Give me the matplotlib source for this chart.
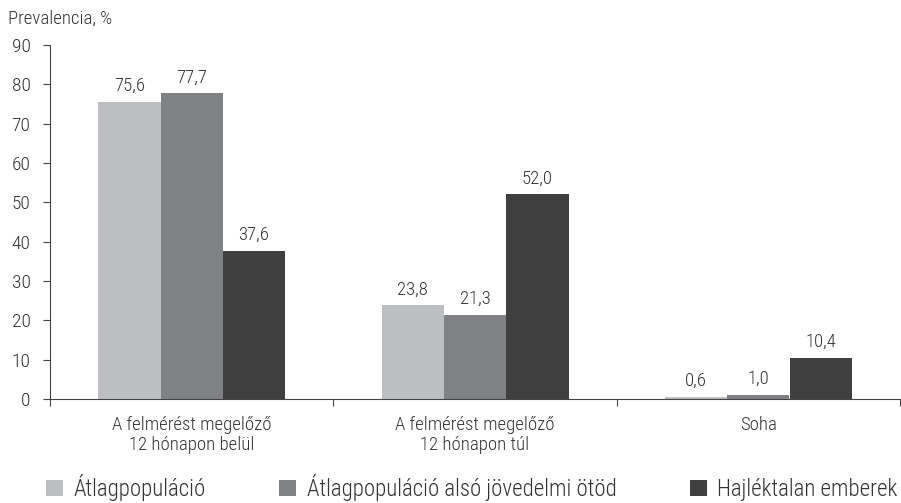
import matplotlib
matplotlib.use("Agg")
import matplotlib.pyplot as plt
from matplotlib import font_manager
from matplotlib.patches import Patch
import numpy as np

categories = ["A felmérést megelőző\n12 hónapon belül",
              "A felmérést megelőző\n12 hónapon túl",
              "Soha"]
series_names = ["Átlagpopuláció", "Átlagpopuláció alsó jövedelmi ötöd", "Hajléktalan emberek"]
atlag = [75.6, 23.8, 0.6]
also_otod = [77.7, 21.3, 1.0]
hajlektalan = [37.6, 52.0, 10.4]
colors = ["#bdbec1", "#808184", "#3f3f40"]
yticks = [0, 10, 20, 30, 40, 50, 60, 70, 80, 90]

avail = {f.name for f in font_manager.fontManager.ttflist}
fam = None
for cand in ["Roboto Condensed", "Liberation Sans Narrow", "Open Sans Condensed", "Liberation Sans"]:
    if cand in avail:
        fam = cand
        break
plt.rcParams['font.family'] = [fam, 'DejaVu Sans'] if fam else ['DejaVu Sans']
plt.rcParams['font.weight'] = 'light'
txt = "#333333"

fig = plt.figure(figsize=(9.01, 5.03), dpi=100)
ax = fig.add_axes([50/901, 1-399/503, 850/901, (399-45)/503])

x = np.arange(len(categories))
w = 0.22
all_series = [atlag, also_otod, hajlektalan]
for i, (vals, c, name) in enumerate(zip(all_series, colors, series_names)):
    bars = ax.bar(x + (i-1)*w, vals, width=w, color=c, label=name, zorder=2)
    for b, v in zip(bars, vals):
        ax.annotate(f"{v:.1f}".replace(".", ","), (b.get_x()+b.get_width()/2, v),
                    xytext=(0, 5), textcoords="offset points", ha="center", va="bottom",
                    fontsize=13.5, color=txt)

ax.set_xlim(-0.5, 2.5)
ax.set_ylim(0, 90)
ax.set_yticks(yticks)
ax.set_yticklabels([str(t) for t in yticks])
ax.tick_params(axis='y', length=5, width=0.8, color="#444444", pad=9, labelsize=14, labelcolor=txt)
ax.set_xticks(x)
ax.set_xticklabels(categories)
ax.tick_params(axis='x', which='major', length=0, pad=12, labelsize=13.5, labelcolor=txt)
ax.set_xticks([-0.5, 0.5, 1.5, 2.5], minor=True)
ax.tick_params(axis='x', which='minor', length=5, width=0.8, color="#444444", direction='out')
for s in ["top", "right"]:
    ax.spines[s].set_visible(False)
for s in ["left", "bottom"]:
    ax.spines[s].set_color("#444444")
    ax.spines[s].set_linewidth(0.8)

fig.text(8/901, 1-24/503, "Prevalencia, %", fontsize=13.5, color=txt, ha="left", va="baseline")

handles = [Patch(facecolor=c, edgecolor='none') for c in colors]
fig.legend(handles, series_names, loc="lower left", bbox_to_anchor=(46/901, 0.004),
           ncol=3, frameon=False, fontsize=16.5, handlelength=0.75, handleheight=0.75,
           handletextpad=0.45, columnspacing=3.2, borderpad=0, borderaxespad=0,
           labelcolor=txt)

fig.savefig("out.png", dpi=100)
